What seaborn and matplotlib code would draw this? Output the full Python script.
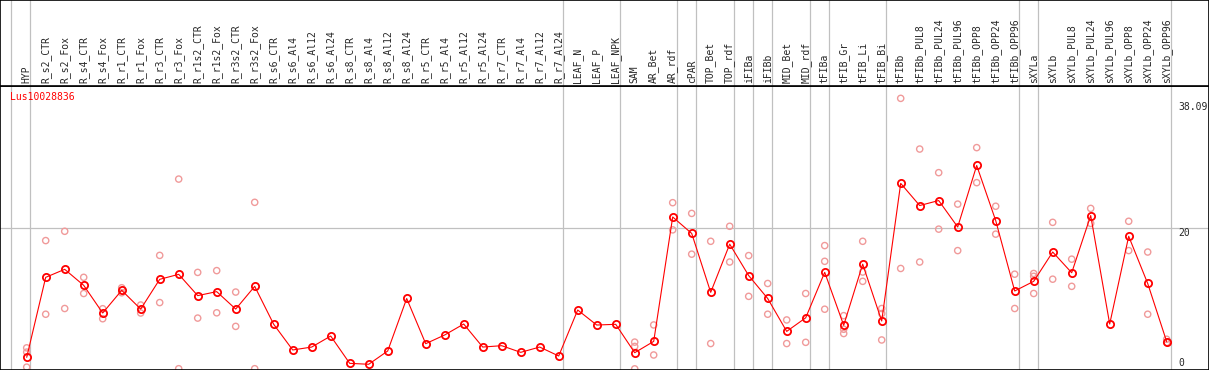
import matplotlib
matplotlib.use("Agg")
import matplotlib.pyplot as plt
import matplotlib.transforms as mtransforms
import numpy as np
import pandas as pd
import seaborn as sns

gene = "Lus10028836"

samples = ["HYP", "R_s2_CTR", "R_s2_Fox", "R_s4_CTR", "R_s4_Fox", "R_r1_CTR",
           "R_r1_Fox", "R_r3_CTR", "R_r3_Fox", "R_r1s2_CTR", "R_r1s2_Fox",
           "R_r3s2_CTR", "R_r3s2_Fox", "R_s6_CTR", "R_s6_Al4", "R_s6_Al12",
           "R_s6_Al24", "R_s8_CTR", "R_s8_Al4", "R_s8_Al12", "R_s8_Al24",
           "R_r5_CTR", "R_r5_Al4", "R_r5_Al12", "R_r5_Al24", "R_r7_CTR",
           "R_r7_Al4", "R_r7_Al12", "R_r7_Al24", "LEAF_N", "LEAF_P", "LEAF_NPK",
           "SAM", "AR_Bet", "AR_rdf", "cPAR", "TOP_Bet", "TOP_rdf", "iFIBa",
           "iFIBb", "MID_Bet", "MID_rdf", "tFIBa", "tFIB_Gr", "tFIB_Li",
           "tFIB_Bi", "tFIBb", "tFIBb_PUL8", "tFIBb_PUL24", "tFIBb_PUL96",
           "tFIBb_OPP8", "tFIBb_OPP24", "tFIBb_OPP96", "sXYLa", "sXYLb",
           "sXYLb_PUL8", "sXYLb_PUL24", "sXYLb_PUL96", "sXYLb_OPP8",
           "sXYLb_OPP24", "sXYLb_OPP96"]

means = [1.87, 13.06, 14.18, 11.94, 8.07, 11.24, 8.62, 12.78, 13.48, 10.5,
         11.06, 8.62, 11.8, 6.49, 2.9, 3.31, 4.85, 1.03, 0.9, 2.76, 10.1,
         3.78, 5.0, 6.53, 3.31, 3.5, 2.57, 3.31, 2.06, 8.49, 6.39, 6.49,
         2.52, 4.1, 21.5, 19.2, 10.96, 17.7, 13.3, 10.1, 5.5, 7.4, 13.76,
         6.35, 14.9, 6.95, 26.2, 23.1, 23.8, 20.1, 28.7, 21.0, 11.15, 12.5,
         16.6, 13.7, 21.7, 6.53, 18.8, 12.2, 4.06]

replicates = [[3.2, 2.6, 0.5], [18.2, 7.9], [19.5, 8.7], [13.06, 10.8],
              [8.67, 7.27], [11.6, 10.9], [9.19, 8.07], [16.13, 9.53],
              [26.8, 0.28], [13.75, 7.36], [14.0, 8.1], [11.0, 6.2],
              [23.55, 0.28], [], [], [], [], [], [], [], [], [], [], [], [],
              [], [], [], [], [], [], [], [4.0, 3.4, 0.26], [6.4, 2.2],
              [23.5, 19.7], [22.0, 16.3], [18.1, 3.8], [20.2, 15.2],
              [16.1, 10.4], [12.2, 7.9], [7.1, 3.8], [10.8, 3.97],
              [17.5, 15.3, 8.6], [7.7, 5.8, 5.2], [18.1, 13.8, 12.5],
              [8.7, 8.0, 4.3], [38.09, 14.3], [31.0, 15.2], [27.7, 19.8],
              [23.3, 16.8], [31.2, 26.3], [23.0, 19.1], [13.5, 8.7],
              [13.6, 13.2, 10.8], [20.75, 12.8], [15.6, 11.8], [22.7, 20.6],
              [], [20.9, 16.8], [16.6, 7.9], [4.4, 3.95]]

# sample index after which a group separator is drawn
group_ends = [-1, 0, 28, 31, 34, 35, 37, 38, 39, 41, 42, 45, 52, 53, 60]

y_ticks = [0, 20, 38.09]
y_tick_labels = ["0", "20", "38.09"]

sns.set_style("white")
plt.rcParams["font.family"] = ["DejaVu Sans Mono", "DejaVu Sans"]

pos = np.arange(len(samples))
mean_df = pd.DataFrame({"pos": pos, "value": means})
rep_df = pd.DataFrame(
    [(i, v) for i, vals in enumerate(replicates) for v in vals],
    columns=["pos", "value"])

W, H = 1209, 370
head = 85.7
fig = plt.figure(figsize=(W / 100, H / 100), dpi=100)
ax = fig.add_axes([0, 0, 1, (H - head) / H])
lab = fig.add_axes([0, (H - head) / H, 1, head / H])

xlim = (-26.7 / 19, (W - 26.7) / 19)
ax.set_xlim(xlim)
ax.set_ylim(0.1, 285 / 7.15)
lab.set_xlim(xlim)
lab.set_ylim(0, 1)

grey = "#c0c0c0"
for g in group_ends:
    ax.axvline(g + 0.2, color=grey, lw=0.9, zorder=1)
    lab.axvline(g + 0.2, color=grey, lw=0.9, zorder=1)
ax.axhline(20, color=grey, lw=0.9, zorder=1)

sns.scatterplot(data=rep_df, x="pos", y="value", ax=ax, marker="o", s=20,
                facecolors="none", edgecolors="#f09a9a", linewidths=1.0,
                zorder=2)
sns.lineplot(data=mean_df, x="pos", y="value", ax=ax, color="red",
             linewidth=0.8, marker="o", markersize=5.2,
             markerfacecolor="none", markeredgecolor="red",
             markeredgewidth=1.3, zorder=3)

# value labels on the right, nudged like the original
offsets = {0: (5, "baseline"), 20: (0, "top"), 38.09: (-4, "top")}
for t, s in zip(y_ticks, y_tick_labels):
    dy, va = offsets[t]
    ax.annotate(s, (60.6, t), xytext=(0, dy), textcoords="offset pixels",
                fontsize=7, va=va, ha="left", annotation_clip=False)

ax.text(10 / W, 1 - 6 / (H - head), gene, transform=ax.transAxes,
        color="red", fontsize=7, va="top", ha="left")

trans = mtransforms.blended_transform_factory(lab.transData, lab.transAxes)
for i, s in enumerate(samples):
    lab.text(i, 2.4 / head, s, transform=trans, rotation=90, fontsize=7,
             ha="center", va="bottom")

for a in (ax, lab):
    a.set_xticks([])
    a.set_yticks([])
    a.set_xlabel("")
    a.set_ylabel("")
    for sp in a.spines.values():
        sp.set_color("black")
        sp.set_linewidth(1.2)

fig.savefig("out.png", dpi=100)
